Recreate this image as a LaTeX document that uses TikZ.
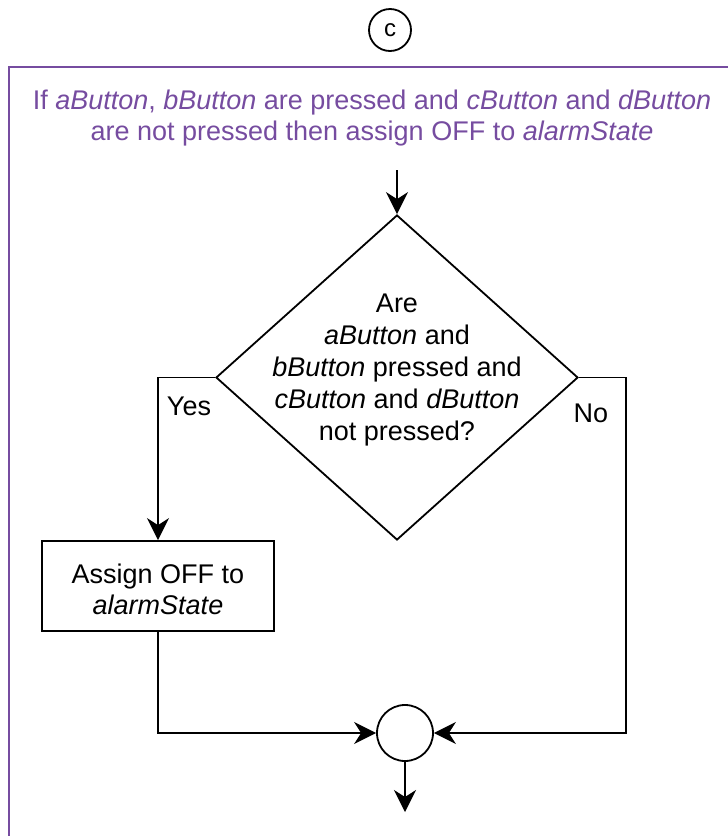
\documentclass[tikz,border=0pt]{standalone}
\usepackage{fontspec}
\setmainfont{Liberation Sans}
\usetikzlibrary{shapes.geometric,arrows.meta}
\definecolor{framepurple}{RGB}{118,76,160}

\begin{document}
\begin{tikzpicture}[x=1pt,y=-1pt,line width=1.8pt,
  arr/.style={-{Stealth[length=22pt,width=22pt,inset=7pt]}},
  txt/.style={font=\fontsize{27}{31}\selectfont,align=center,inner sep=0pt}]
 \useasboundingbox (0,0) rectangle (728,836);

 % connector from the previous page
 \node[circle,draw,minimum size=42pt,inner sep=0pt,font=\fontsize{24}{28}\selectfont] (con) at (390,30) {c};

 % the purple block
 \draw[framepurple] (9,836) -- (9,67) -- (728,67);
 \node[txt,text=framepurple] (title) at (372,118) {If \textit{aButton}, \textit{bButton} are pressed and \textit{cButton} and \textit{dButton}\\are not pressed then assign OFF to \textit{alarmState}};

 % decision
 \coordinate (in) at (397,170);
 \node[diamond,draw,minimum width=362pt,minimum height=325pt,inner sep=0pt] (dec) at (397,377.5) {};
 \node[txt,font=\fontsize{27}{32}\selectfont] (dectext) at (397,370.5) {Are\\\textit{aButton} and\\\textit{bButton} pressed and\\\textit{cButton} and \textit{dButton}\\not pressed?};
 \draw[arr] (in) -- (dec.north);

 \node[draw,minimum width=232pt,minimum height=90pt,inner sep=0pt] (assign) at (158,586) {};
 \node[txt] (assigntext) at (158,589) {Assign OFF to\\\textit{alarmState}};
 \node[circle,draw,minimum size=56pt,inner sep=0pt] (join) at (405,733) {};
 \coordinate (out) at (405,812);

 \draw[arr] (dec.west) -| (assign.north);
 \node[txt] (yes) at (189,406) {Yes};
 \draw[arr] (dec.east) -- ++(47,0) |- (join.east);
 \node[txt] (no) at (591,413) {No};
 \draw[arr] (assign.south) |- (join.west);
 \draw[arr] (join.south) -- (out);
\end{tikzpicture}
\end{document}
